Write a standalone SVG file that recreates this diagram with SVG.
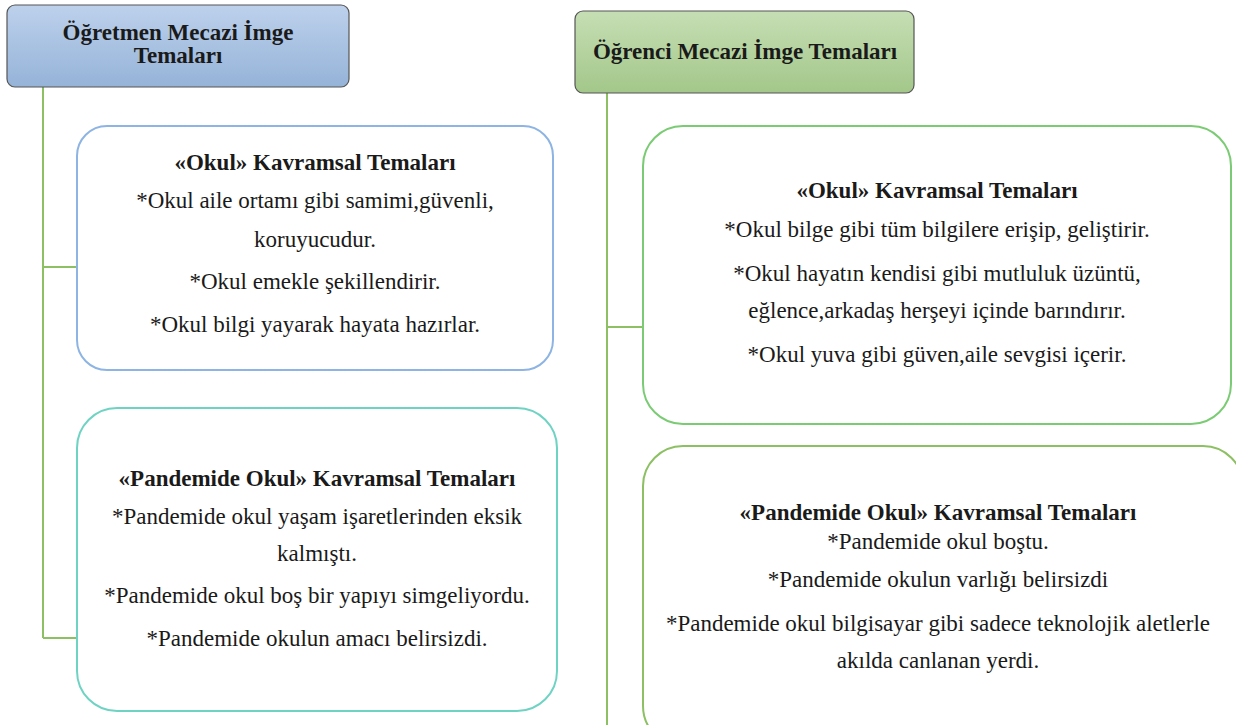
<svg xmlns="http://www.w3.org/2000/svg" width="1236" height="725" viewBox="0 0 1236 725" font-family="'Liberation Serif', 'DejaVu Serif', serif">
<defs>
<linearGradient id="gBlue" x1="0" y1="0" x2="0" y2="1"><stop offset="0" stop-color="#bdd1ec"/><stop offset="1" stop-color="#95b3d8"/></linearGradient>
<linearGradient id="gGreen" x1="0" y1="0" x2="0" y2="1"><stop offset="0" stop-color="#c6deb4"/><stop offset="1" stop-color="#a3c78a"/></linearGradient>
</defs>
<style>
text{font-family:'Liberation Serif','DejaVu Serif',serif;font-size:23px;fill:#1a1a1a;text-anchor:middle}
.b{font-weight:bold}
.hdr{stroke:#555;stroke-width:1.2}
.conn{stroke:#8cc063;stroke-width:2;fill:none}
.box{fill:#fff;stroke-width:2}
</style>
<rect width="1236" height="725" fill="#fff"/>
<g id="connectors">
<path class="conn" d="M43 87 V638 M43 267 H77 M43 638 H77"/>
<path class="conn" d="M607 93 V725 M607 327 H643"/>
</g>
<g id="teacher-header">
<rect class="hdr" x="7" y="5" width="342" height="82" rx="8" fill="url(#gBlue)"/>
<text class="b" x="178" y="40">Öğretmen Mecazi İmge</text>
<text class="b" x="178" y="63">Temaları</text>
</g>
<g id="student-header">
<rect class="hdr" x="575" y="11" width="339" height="82" rx="8" fill="url(#gGreen)"/>
<text class="b" x="745" y="59">Öğrenci Mecazi İmge Temaları</text>
</g>
<g id="teacher-okul">
<rect class="box" x="77" y="126" width="476" height="244" rx="30" stroke="#8db4e3"/>
<text class="b" x="315" y="170">«Okul» Kavramsal Temaları</text>
<text x="315" y="208">*Okul aile ortamı gibi samimi,güvenli,</text>
<text x="315" y="247">koruyucudur.</text>
<text x="315" y="289">*Okul emekle şekillendirir.</text>
<text x="315" y="332">*Okul bilgi yayarak hayata hazırlar.</text>
</g>
<g id="teacher-pandemi">
<rect class="box" x="77" y="408" width="480" height="303" rx="40" stroke="#6fd3c3"/>
<text class="b" x="317" y="486">«Pandemide Okul» Kavramsal Temaları</text>
<text x="317" y="524">*Pandemide okul yaşam işaretlerinden eksik</text>
<text x="317" y="561">kalmıştı.</text>
<text x="317" y="603">*Pandemide okul boş bir yapıyı simgeliyordu.</text>
<text x="317" y="646">*Pandemide okulun amacı belirsizdi.</text>
</g>
<g id="student-okul">
<rect class="box" x="643" y="126" width="588" height="298" rx="40" stroke="#7acb73"/>
<text class="b" x="937" y="198">«Okul» Kavramsal Temaları</text>
<text x="937" y="237">*Okul bilge gibi tüm bilgilere erişip, geliştirir.</text>
<text x="937" y="281">*Okul hayatın kendisi gibi mutluluk üzüntü,</text>
<text x="937" y="318">eğlence,arkadaş herşeyi içinde barındırır.</text>
<text x="937" y="362">*Okul yuva gibi güven,aile sevgisi içerir.</text>
</g>
<g id="student-pandemi">
<rect class="box" x="643" y="446" width="600" height="300" rx="40" stroke="#8cc063"/>
<text class="b" x="938" y="520">«Pandemide Okul» Kavramsal Temaları</text>
<text x="938" y="549">*Pandemide okul boştu.</text>
<text x="938" y="587">*Pandemide okulun varlığı belirsizdi</text>
<text x="938" y="631">*Pandemide okul bilgisayar gibi sadece teknolojik aletlerle</text>
<text x="938" y="668">akılda canlanan yerdi.</text>
</g>
</svg>
